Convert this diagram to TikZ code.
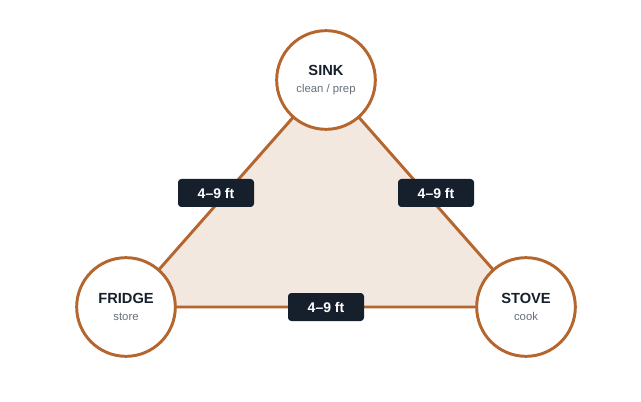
\documentclass[tikz,border=0pt]{standalone}
\usepackage{fontspec}
\setmainfont{Liberation Sans}
\begin{document}
\begin{tikzpicture}[x=0.75pt,y=-0.75pt,
  st/.style={circle,draw=brn,line width=2.2pt,fill=white,minimum size=74pt,inner sep=0pt,align=center},
  lb/.style={fill=navy,text=white,rounded corners=2.5pt,font=\bfseries\fontsize{10.5}{12}\selectfont,minimum width=57pt,minimum height=21pt,inner sep=0pt}]
\definecolor{brn}{HTML}{B5652E}
\definecolor{navy}{HTML}{16202C}
\definecolor{tri}{HTML}{F3E8DF}
\definecolor{sub}{HTML}{66707C}
\useasboundingbox (0,0) rectangle (641,402);
\coordinate (s) at (326,80);
\coordinate (f) at (126,307);
\coordinate (t) at (526,307);
\draw[brn,line width=2.2pt,fill=tri,line join=round] (s)--(f)--(t)--cycle;
\node[st] (sink) at (s) {{\bfseries\fontsize{11}{13}\selectfont\color{navy}SINK}\\[1pt]{\fontsize{8.5}{10}\selectfont\color{sub}clean / prep}};
\node[st] (fridge) at (f) {{\bfseries\fontsize{11}{13}\selectfont\color{navy}FRIDGE}\\[1pt]{\fontsize{8.5}{10}\selectfont\color{sub}store}};
\node[st] (stove) at (t) {{\bfseries\fontsize{11}{13}\selectfont\color{navy}STOVE}\\[1pt]{\fontsize{8.5}{10}\selectfont\color{sub}cook}};
\node[lb] (l1) at (216,193) {4–9 ft};
\node[lb] (l2) at (436,193) {4–9 ft};
\node[lb] (l3) at (326,307) {4–9 ft};
\end{tikzpicture}
\end{document}
